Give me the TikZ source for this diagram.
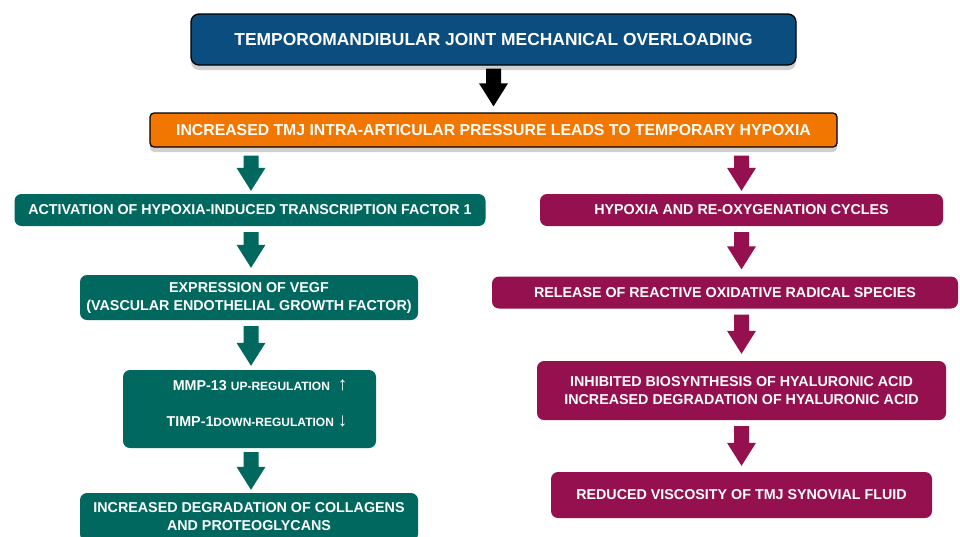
\documentclass[tikz,border=0pt]{standalone}
\usepackage{fontspec}
\setmainfont{Liberation Sans}
\usetikzlibrary{calc,shadows}
\definecolor{navy}{RGB}{10,77,126}
\definecolor{orng}{RGB}{241,119,0}
\definecolor{tealc}{RGB}{0,104,94}
\definecolor{magc}{RGB}{149,16,78}
\newcommand\blockarrow[3]{%
  \fill[#1] let \p1=(#2), \p2=(#3) in
  (\x1-7.5pt,\y1) -- (\x1+7.5pt,\y1) -- (\x1+7.5pt,\y2+23pt) -- (\x1+14.5pt,\y2+23pt)
  -- (\x1,\y2) -- (\x1-14.5pt,\y2+23pt) -- (\x1-7.5pt,\y2+23pt) -- cycle;}
\tikzset{
  box/.style={rounded corners=7pt, text=white, align=center, inner sep=0pt,
    font=\bfseries\fontsize{14.3}{18}\selectfont},
  tbox/.style={box, fill=tealc},
  mbox/.style={box, fill=magc},
}
\newcommand\smc[1]{{\fontsize{12}{12}\selectfont #1}}
\newcommand\bigarr[1]{{\fontsize{19}{19}\selectfont\mdseries #1}}
\begin{document}
\begin{tikzpicture}[x=1pt,y=-1pt]
\useasboundingbox[fill=white] (0,0) rectangle (960,536);
% top
\node[box, fill=navy, draw=black, line width=1.3pt, rounded corners=8pt,
  minimum width=605pt, minimum height=51pt,
  font=\bfseries\fontsize{17.4}{20}\selectfont,
  drop shadow={shadow xshift=0pt, shadow yshift=-5pt, opacity=0.3, fill=black!60}]
  (T) at (493.5,39.5) {TEMPOROMANDIBULAR JOINT MECHANICAL OVERLOADING};
\node[box, fill=orng, draw=black, line width=1.3pt, rounded corners=4pt,
  minimum width=687pt, minimum height=34pt,
  font=\bfseries\fontsize{15.8}{18}\selectfont,
  drop shadow={shadow xshift=0pt, shadow yshift=-5pt, opacity=0.3, fill=black!60}]
  (O) at (493.5,130) {INCREASED TMJ INTRA-ARTICULAR PRESSURE LEADS TO TEMPORARY HYPOXIA};
% left column
\node[tbox, minimum width=471pt, minimum height=32pt] (L1) at (250,210)
  {ACTIVATION OF HYPOXIA-INDUCED TRANSCRIPTION FACTOR 1};
\node[tbox, minimum width=338pt, minimum height=45pt] (L2) at (249,297.5)
  {EXPRESSION OF VEGF\\(VASCULAR ENDOTHELIAL GROWTH FACTOR)};
\node[tbox, minimum width=253pt, minimum height=78pt] (L3) at (249.5,409) {};
\node[box, align=right, font=\bfseries\fontsize{14.3}{36}\selectfont] (L3t) at (257,403)
  {MMP-13 \smc{UP-REGULATION} \ \bigarr{↑}\\TIMP-1\smc{DOWN-REGULATION} \bigarr{↓}};
\node[tbox, minimum width=338pt, minimum height=48pt] (L4) at (249,517)
  {INCREASED DEGRADATION OF COLLAGENS\\AND PROTEOGLYCANS};
% right column
\node[mbox, minimum width=403pt, minimum height=32pt] (R1) at (741.5,210)
  {HYPOXIA AND RE-OXYGENATION CYCLES};
\node[mbox, minimum width=466pt, minimum height=32pt] (R2) at (725,292.5)
  {RELEASE OF REACTIVE OXIDATIVE RADICAL SPECIES};
\node[mbox, minimum width=409pt, minimum height=59pt] (R3) at (741.5,390.5)
  {INHIBITED BIOSYNTHESIS OF HYALURONIC ACID\\INCREASED DEGRADATION OF HYALURONIC ACID};
\node[mbox, minimum width=381pt, minimum height=46pt] (R4) at (741.5,495)
  {REDUCED VISCOSITY OF TMJ SYNOVIAL FLUID};
% arrows
\blockarrow{black}{$(T.south)+(0,3)$}{$(O.north)+(0,-6)$}
\blockarrow{tealc}{$(O.south -| L1.north)+(1,8)$}{$(L1.north)+(1,-3)$}
\blockarrow{tealc}{$(L1.south)+(1,6)$}{$(L2.north)+(1,-7)$}
\blockarrow{tealc}{$(L2.south -| L1.south)+(1,6)$}{$(L3.north)+(1,-4)$}
\blockarrow{tealc}{$(L3.south -| L1.south)+(1,4)$}{$(L4.north)+(1,-3)$}
\blockarrow{magc}{$(O.south -| R1.north)+(0,8)$}{$(R1.north)+(0,-3)$}
\blockarrow{magc}{$(R1.south)+(0,6)$}{$(R2.north -| R1.north)+(0,-7)$}
\blockarrow{magc}{$(R2.south -| R1.south)+(0,6)$}{$(R3.north)+(0,-7)$}
\blockarrow{magc}{$(R3.south)+(0,6)$}{$(R4.north)+(0,-6)$}
\end{tikzpicture}
\end{document}
